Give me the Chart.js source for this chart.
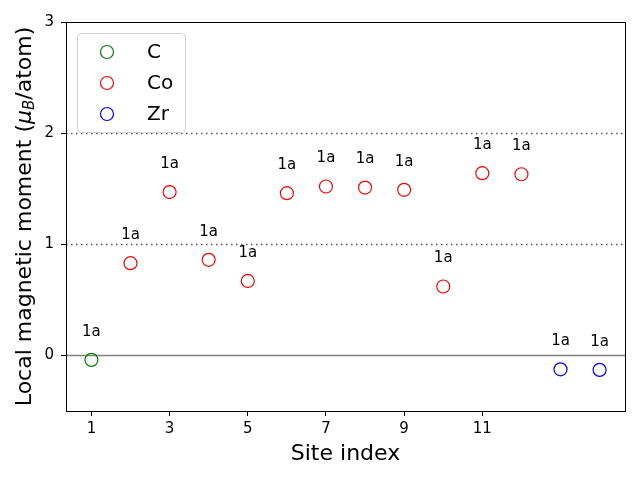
<!DOCTYPE html>
<html><head><meta charset="utf-8">
<script src="https://cdn.jsdelivr.net/npm/chart.js@4"></script>
<style>html,body{margin:0;padding:0;background:#fff}#wrap{width:640px;height:480px}</style>
</head><body><div id="wrap"><canvas id="c" width="640" height="480"></canvas></div>
<script>
const speciesNames = ["C", "Co", "Zr"];
const speciesColors = ["green", "red", "blue"];
const cSites = [1];
const cMoments = [-0.04];
const coSites = [2, 3, 4, 5, 6, 7, 8, 9, 10, 11, 12];
const coMoments = [0.83, 1.47, 0.86, 0.67, 1.46, 1.52, 1.51, 1.49, 0.62, 1.64, 1.63];
const zrSites = [13, 14];
const zrMoments = [-0.125, -0.13];
const wyckoffLabels = ["1a","1a","1a","1a","1a","1a","1a","1a","1a","1a","1a","1a","1a","1a"];
const xTicks = [1, 3, 5, 7, 9, 11];
const yTicks = [0, 1, 2, 3];
const refLinesDotted = [1, 2];
const refLineSolid = 0;

const FONT = "'DejaVu Sans', sans-serif";
function pts(xs, ys) { return xs.map((x, i) => ({x: x, y: ys[i]})); }
const allSites = [cSites, coSites, zrSites];
const allMoments = [cMoments, coMoments, zrMoments];

const datasets = speciesNames.map((n, i) => ({
  label: n,
  data: pts(allSites[i], allMoments[i]),
  borderColor: speciesColors[i],
  backgroundColor: 'rgba(0,0,0,0)',
  pointRadius: 6.5,
  pointHoverRadius: 6.5,
  borderWidth: 1.2,
  showLine: false
}));

const overlay = {
  id: 'overlay',
  beforeDatasetsDraw(chart) {
    const {ctx, chartArea: a, scales: {x, y}} = chart;
    ctx.save();
    ctx.strokeStyle = '#555';
    ctx.lineWidth = 1.5;
    ctx.setLineDash([1.5, 3.5]);
    refLinesDotted.forEach(v => {
      const py = Math.round(y.getPixelForValue(v)) + 0.5;
      ctx.beginPath(); ctx.moveTo(a.left, py); ctx.lineTo(a.right, py); ctx.stroke();
    });
    ctx.setLineDash([]);
    ctx.strokeStyle = 'gray';
    const p0 = Math.round(y.getPixelForValue(refLineSolid)) + 0.5;
    ctx.beginPath(); ctx.moveTo(a.left, p0); ctx.lineTo(a.right, p0); ctx.stroke();
    ctx.restore();
  },
  afterDatasetsDraw(chart) {
    const {ctx, chartArea: a, scales: {x, y}} = chart;
    ctx.save();
    // frame
    ctx.strokeStyle = '#000'; ctx.lineWidth = 1;
    ctx.strokeRect(Math.round(a.left) + 0.5, Math.round(a.top) + 0.5, Math.round(a.right - a.left), Math.round(a.bottom - a.top));
    // labels
    ctx.fillStyle = '#000';
    ctx.font = '15px ' + FONT;
    ctx.textAlign = 'center'; ctx.textBaseline = 'middle';
    let k = 0;
    allSites.forEach((xs, i) => xs.forEach((sx, j) => {
      const px = x.getPixelForValue(sx), py = y.getPixelForValue(allMoments[i][j]);
      ctx.fillText(wyckoffLabels[k++], px, py - 28);
    }));
    // legend
    const lx = 77, ly = 33, lw = 108, lh = 99;
    ctx.beginPath();
    if (ctx.roundRect) ctx.roundRect(lx + 0.5, ly + 0.5, lw, lh, 4); else ctx.rect(lx + 0.5, ly + 0.5, lw, lh);
    ctx.fillStyle = 'rgba(255,255,255,0.8)'; ctx.fill();
    ctx.strokeStyle = '#d0d0d0'; ctx.lineWidth = 1; ctx.stroke();
    ctx.font = '20px ' + FONT; ctx.textAlign = 'left';
    speciesNames.forEach((n, i) => {
      const cy = 52 + i * 31;
      ctx.beginPath(); ctx.arc(107, cy, 6.5, 0, Math.PI * 2);
      ctx.strokeStyle = speciesColors[i]; ctx.lineWidth = 1.2; ctx.stroke();
      ctx.fillStyle = '#000'; ctx.fillText(n, 147, cy + 1);
    });
    // y title with subscript
    ctx.translate(25, (a.top + a.bottom) / 2);
    ctx.rotate(-Math.PI / 2);
    const parts = [
      {t: 'Local magnetic moment (', f: '22px ' + FONT, dy: 0},
      {t: 'μ', f: 'italic 22px ' + FONT, dy: 0},
      {t: 'B', f: 'italic 15px ' + FONT, dy: 5},
      {t: '/atom)', f: '22px ' + FONT, dy: 0}
    ];
    let total = 0;
    parts.forEach(p => { ctx.font = p.f; p.w = ctx.measureText(p.t).width; total += p.w; });
    let cx = -total / 2;
    ctx.textBaseline = 'middle'; ctx.textAlign = 'left'; ctx.fillStyle = '#000';
    parts.forEach(p => { ctx.font = p.f; ctx.fillText(p.t, cx, p.dy); cx += p.w; });
    ctx.restore();
  }
};

new Chart(document.getElementById('c'), {
  type: 'scatter',
  data: { datasets },
  options: {
    responsive: false,
    animation: false,
    devicePixelRatio: 1,
    layout: { padding: { top: 22, right: 15, left: 0, bottom: 0 } },
    plugins: { legend: { display: false }, tooltip: { enabled: false } },
    scales: {
      x: {
        type: 'linear', min: 0.35, max: 14.65,
        afterBuildTicks(s) { s.ticks = xTicks.map(v => ({value: v})); },
        afterFit(s) { s.height = 69; },
        grid: { drawOnChartArea: false, tickLength: 5, color: '#000', tickColor: '#000' },
        border: { display: false },
        ticks: { color: '#000', font: { size: 15, family: FONT }, padding: 4, maxRotation: 0, autoSkip: false },
        title: { display: true, text: 'Site index', color: '#000', font: { size: 22, family: FONT }, padding: { top: 0, bottom: 13 } }
      },
      y: {
        type: 'linear', min: -0.5, max: 3,
        afterBuildTicks(s) { s.ticks = yTicks.map(v => ({value: v})); },
        afterFit(s) { s.width = 66; },
        grid: { drawOnChartArea: false, tickLength: 5, color: '#000', tickColor: '#000' },
        border: { display: false },
        ticks: { color: '#000', font: { size: 15, family: FONT }, padding: 7, autoSkip: false }
      }
    }
  },
  plugins: [overlay]
});
</script></body></html>
